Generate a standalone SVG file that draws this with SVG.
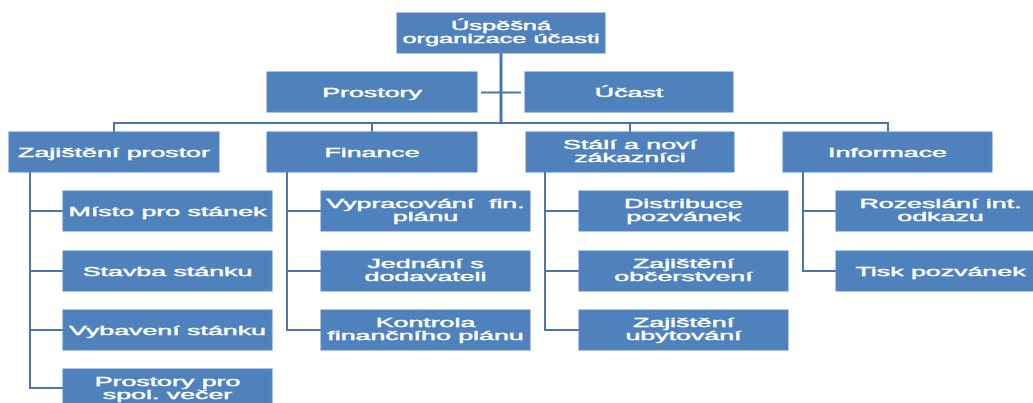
<svg xmlns="http://www.w3.org/2000/svg" width="1033" height="403" viewBox="0 0 1033 403">
  <style>
    .box { fill: #4f81bd; stroke: #5b8ac4; stroke-width: 1; }
    .lbl { font-family: "Liberation Sans", Arial, sans-serif; font-size: 13px; fill: #ffffff; stroke: #ffffff; stroke-width: 0.35; text-anchor: middle; }
    .wire { fill: none; stroke: #4a76b0; stroke-width: 2; }
    .trunk { fill: none; stroke: #4a76b0; stroke-width: 3; }
  </style>
  <rect width="1033" height="403" fill="#ffffff"/>

  <!-- connectors -->
  <g id="connectors">
    <path class="trunk" d="M501,53 V123"/>
    <path class="wire" d="M481,92.5 H521"/>
    <path class="wire" d="M114,132 V123 H888 V132"/>
    <path class="wire" d="M372,123 V132 M630,123 V132"/>
    <!-- Zajištění prostor branch -->
    <path class="wire" d="M30,172 V388 H63 M30,211 H63 M30,271 H63 M30,330 H63"/>
    <!-- Finance branch -->
    <path class="wire" d="M287,172 V330 H321 M287,211 H321 M287,271 H321"/>
    <!-- Stálí a noví zákazníci branch -->
    <path class="wire" d="M545,172 V330 H579 M545,211 H579 M545,271 H579"/>
    <!-- Informace branch -->
    <path class="wire" d="M803,172 V271 H836 M803,211 H836"/>
  </g>

  <!-- root -->
  <g id="root">
    <rect class="box" x="397" y="13" width="208" height="40"/>
    <g transform="translate(501,30) scale(1.95,1)"><text class="lbl" x="0" y="0">Úspěšná<tspan x="0" dy="13.5">organizace účasti</tspan></text></g>
  </g>

  <!-- second row -->
  <g id="prostory">
    <rect class="box" x="267" y="72" width="210" height="40"/>
    <g transform="translate(372,96.5) scale(2.06,1)"><text class="lbl" x="0" y="0">Prostory</text></g>
  </g>
  <g id="ucast">
    <rect class="box" x="525" y="72" width="208" height="40"/>
    <g transform="translate(629,96.5) scale(2.06,1)"><text class="lbl" x="0" y="0">Účast</text></g>
  </g>

  <!-- category row -->
  <g id="zajisteni-prostor">
    <rect class="box" x="9" y="132" width="210" height="40"/>
    <g transform="translate(114,156.5) scale(2.06,1)"><text class="lbl" x="0" y="0">Zajištění prostor</text></g>
  </g>
  <g id="finance">
    <rect class="box" x="267" y="132" width="210" height="40"/>
    <g transform="translate(372,156.5) scale(2.06,1)"><text class="lbl" x="0" y="0">Finance</text></g>
  </g>
  <g id="zakaznici">
    <rect class="box" x="526" y="132" width="208" height="40"/>
    <g transform="translate(630,149) scale(2.06,1)"><text class="lbl" x="0" y="0">Stálí a noví<tspan x="0" dy="13.5">zákazníci</tspan></text></g>
  </g>
  <g id="informace">
    <rect class="box" x="783" y="132" width="209" height="40"/>
    <g transform="translate(887.5,156.5) scale(2.06,1)"><text class="lbl" x="0" y="0">Informace</text></g>
  </g>

  <!-- Zajištění prostor items -->
  <g id="misto">
    <rect class="box" x="63" y="191" width="209" height="40"/>
    <g transform="translate(167.5,215.5) scale(2.06,1)"><text class="lbl" x="0" y="0">Místo pro stánek</text></g>
  </g>
  <g id="stavba">
    <rect class="box" x="63" y="251" width="209" height="40"/>
    <g transform="translate(167.5,275.5) scale(2.06,1)"><text class="lbl" x="0" y="0">Stavba stánku</text></g>
  </g>
  <g id="vybaveni">
    <rect class="box" x="63" y="310" width="209" height="40"/>
    <g transform="translate(167.5,334.5) scale(2.06,1)"><text class="lbl" x="0" y="0">Vybavení stánku</text></g>
  </g>
  <g id="vecer">
    <rect class="box" x="63" y="369" width="209" height="40"/>
    <g transform="translate(167.5,386) scale(2.06,1)"><text class="lbl" x="0" y="0">Prostory pro<tspan x="0" dy="13.5">spol. večer</tspan></text></g>
  </g>

  <!-- Finance items -->
  <g id="plan">
    <rect class="box" x="321" y="191" width="209" height="40"/>
    <g transform="translate(425.5,208) scale(2.06,1)"><text class="lbl" x="0" y="0" style="white-space:pre">Vypracování  fin.<tspan x="0" dy="13.5">plánu</tspan></text></g>
  </g>
  <g id="dodavatele">
    <rect class="box" x="321" y="251" width="209" height="40"/>
    <g transform="translate(425.5,268) scale(2.06,1)"><text class="lbl" x="0" y="0">Jednání s<tspan x="0" dy="13.5">dodavateli</tspan></text></g>
  </g>
  <g id="kontrola">
    <rect class="box" x="321" y="310" width="209" height="40"/>
    <g transform="translate(425.5,327) scale(2.06,1)"><text class="lbl" x="0" y="0">Kontrola<tspan x="0" dy="13.5">finančního plánu</tspan></text></g>
  </g>

  <!-- Stálí a noví zákazníci items -->
  <g id="distribuce">
    <rect class="box" x="579" y="191" width="209" height="40"/>
    <g transform="translate(683.5,208) scale(2.06,1)"><text class="lbl" x="0" y="0">Distribuce<tspan x="0" dy="13.5">pozvánek</tspan></text></g>
  </g>
  <g id="obcerstveni">
    <rect class="box" x="579" y="251" width="209" height="40"/>
    <g transform="translate(683.5,268) scale(2.06,1)"><text class="lbl" x="0" y="0">Zajištění<tspan x="0" dy="13.5">občerstvení</tspan></text></g>
  </g>
  <g id="ubytovani">
    <rect class="box" x="579" y="310" width="209" height="40"/>
    <g transform="translate(683.5,327) scale(2.06,1)"><text class="lbl" x="0" y="0">Zajištění<tspan x="0" dy="13.5">ubytování</tspan></text></g>
  </g>

  <!-- Informace items -->
  <g id="rozeslani">
    <rect class="box" x="836" y="191" width="209" height="40"/>
    <g transform="translate(940.5,208) scale(2.06,1)"><text class="lbl" x="0" y="0">Rozeslání int.<tspan x="0" dy="13.5">odkazu</tspan></text></g>
  </g>
  <g id="tisk">
    <rect class="box" x="836" y="251" width="209" height="40"/>
    <g transform="translate(940.5,275.5) scale(2.06,1)"><text class="lbl" x="0" y="0">Tisk pozvánek</text></g>
  </g>
</svg>
